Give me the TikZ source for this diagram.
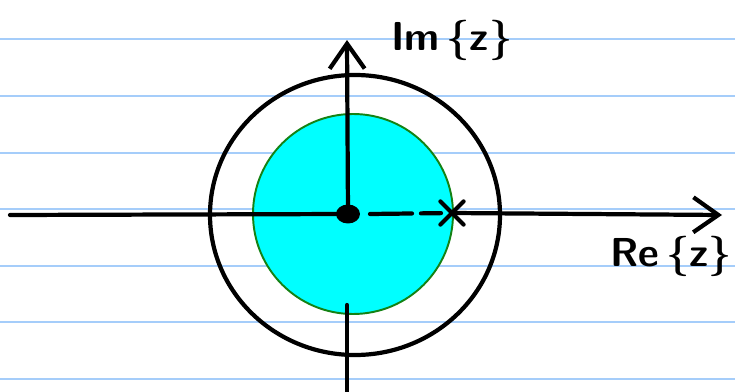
\documentclass[tikz,border=0pt]{standalone}
\usepackage{amsmath,amssymb}
\usepackage{xcolor}
\usepackage{tikz}
\usetikzlibrary{positioning,arrows.meta,shapes.geometric,shapes.misc}

\definecolor{ruled}{RGB}{165,205,250}
\definecolor{roc}{RGB}{0,255,255}
\definecolor{rocedge}{RGB}{20,130,20}

\begin{document}
\begin{tikzpicture}[x=0.02cm,y=-0.02cm,line cap=round,
  hand/.style={line width=2.4pt,black},
  axis/.style={hand,-{Straight Barb[length=0.5cm,width=0.7cm,line width=2.4pt]}},
  lbl/.style={font=\fontsize{23}{23}\selectfont\sffamily\bfseries},
  pole/.style={ellipse,fill=black,inner sep=0pt,minimum width=0.48cm,minimum height=0.38cm},
  zeromark/.style={cross out,draw=black,line width=2.4pt,minimum size=0.38cm,inner sep=0pt}]
\useasboundingbox (0,0) rectangle (735,392);
% notebook lines
\foreach \y in {39,96,153,209,266,322,379}
  \draw[ruled,line width=1.2pt] (0,\y) -- (735,\y);
% region of convergence and unit circle
\draw[hand] (355,215) ellipse [x radius=145,y radius=140];
\fill[roc] (353,214) circle [radius=100];
\draw[rocedge,line width=1.1pt] (353,214) circle [radius=100];
% axes
\coordinate (o) at (348,214);
\coordinate (west) at (10,215);
\coordinate (east) at (722,215);
\coordinate (north) at (347,40);
\coordinate (south) at (347,305);
\coordinate (bottom) at (347,392);
\node[pole] (p) at (o) {};
\node[zeromark] (z) at (452,213) {};
\draw[hand] (west) -- (o);
\draw[axis] (o) -- (north);
\draw[axis] (z.center) -- (east);
\draw[hand] (south) -- (bottom);
\draw[hand,dash pattern=on 0.84cm off 0.18cm on 0.4cm] (370,214) -- (z.center);
\node[lbl] (im) at (452,40) {Im\,\{z\}};
\node[lbl] (re) at (671,256) {Re\,\{z\}};
\end{tikzpicture}
\end{document}
